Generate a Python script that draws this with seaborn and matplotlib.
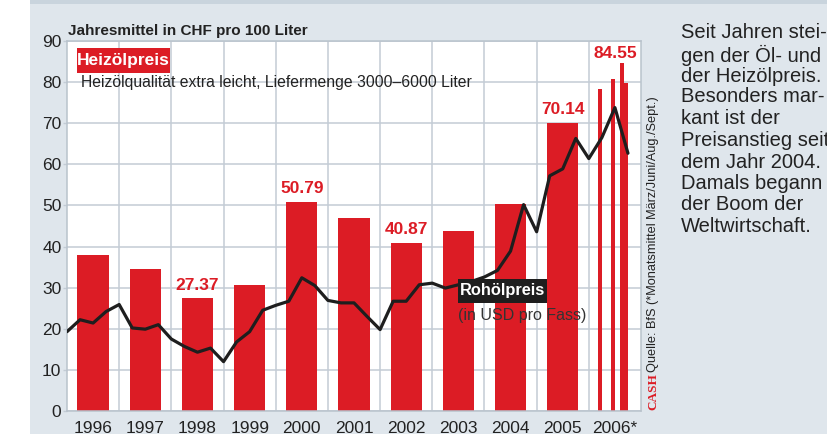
import matplotlib
matplotlib.use("Agg")
import matplotlib.pyplot as plt
from matplotlib.patches import Rectangle
from matplotlib import font_manager as fm
import seaborn as sns
import pandas as pd
import numpy as np

# ---------------- data ----------------
years = ["1996", "1997", "1998", "1999", "2000", "2001", "2002", "2003", "2004", "2005", "2006*"]
heizoel_annual = [37.9, 34.6, 27.37, 30.6, 50.79, 47.0, 40.87, 43.7, 50.4, 70.14]
months_2006 = ["März", "Juni", "Aug.", "Sept."]
month_index_2006 = [2, 5, 7, 8]
heizoel_2006 = [78.3, 80.7, 84.55, 79.7]
labeled_years = ["1998", "2000", "2002", "2005"]
label_2006 = "84.55"
# quarterly crude oil price (USD per barrel), 1996 Q1 ... 2006 Q4
rohoel_quarterly = [19.3, 22.2, 21.4, 24.2, 25.9, 20.2, 19.9, 21.0, 17.5, 15.7, 14.3, 15.3,
                    12.0, 16.8, 19.3, 24.5, 25.7, 26.7, 32.4, 30.5, 26.9, 26.3, 26.3, 23.0,
                    19.8, 26.7, 26.7, 30.7, 31.1, 29.9, 30.7, 31.5, 32.6, 34.2, 38.9, 50.2,
                    43.6, 57.2, 58.9, 66.3, 61.4, 66.5, 73.8, 62.7]
y_ticks = [0, 10, 20, 30, 40, 50, 60, 70, 80, 90]
side_text = ["Seit Jahren stei-", "gen der Öl- und", "der Heizölpreis.", "Besonders mar-",
             "kant ist der", "Preisanstieg seit", "dem Jahr 2004.", "Damals begann",
             "der Boom der", "Weltwirtschaft."]

# ---------------- style ----------------
RED = "#dc1c25"
BG = "#dfe6ec"
STRIP = "#c9d4dd"
GRID = "#c3ccd5"
TXT = "#222222"

sns.set_theme(style="white")
names = {f.name for f in fm.fontManager.ttflist}
NARROW = "Liberation Sans Narrow" if "Liberation Sans Narrow" in names else "Liberation Sans"
plt.rcParams["font.family"] = [NARROW, "DejaVu Sans"]

W, H = 827, 434
fig = plt.figure(figsize=(W / 100, H / 100), dpi=100, facecolor=BG)

def fx(x):
    return x / W

def fy(y):
    return 1 - y / H

fig.patches.append(Rectangle((0, 0), fx(30), 1, transform=fig.transFigure,
                             facecolor="white", edgecolor="none", zorder=0))
fig.patches.append(Rectangle((fx(30), fy(4)), 1, 4 / H, transform=fig.transFigure,
                             facecolor=STRIP, edgecolor="none", zorder=0))

ax = fig.add_axes([fx(67), 1 - 411 / H, (641 - 67) / W, (411 - 41) / H])
ax.set_facecolor("white")

df_a = pd.DataFrame({"x": np.arange(len(heizoel_annual)) + 0.5, "v": heizoel_annual})
sns.barplot(data=df_a, x="x", y="v", native_scale=True, width=0.6, color=RED,
            saturation=1, errorbar=None, linewidth=0, ax=ax, zorder=2)

df_m = pd.DataFrame({"x": 10 + (np.array(month_index_2006) + 0.55) / 12, "v": heizoel_2006})
sns.barplot(data=df_m, x="x", y="v", native_scale=True, width=0.92, color=RED,
            saturation=1, errorbar=None, linewidth=0, ax=ax, zorder=2)

df_l = pd.DataFrame({"x": np.arange(len(rohoel_quarterly)) / 4, "v": rohoel_quarterly})
sns.lineplot(data=df_l, x="x", y="v", color="#1e1e1e", linewidth=2.3, ax=ax, zorder=3)

ax.set_xlim(0, 11)
ax.set_ylim(0, 90)
ax.set_xlabel("")
ax.set_ylabel("")
ax.set_xticks(np.arange(11) + 0.5)
ax.set_xticklabels(years)
ax.set_xticks(np.arange(1, 11), minor=True)
ax.set_yticks(y_ticks)
ax.grid(False)
ax.grid(which="minor", axis="x", color=GRID, linewidth=1.1, zorder=0)
ax.grid(which="major", axis="y", color=GRID, linewidth=1.1, zorder=0)
ax.set_axisbelow(True)
ax.tick_params(axis="x", which="both", length=0, pad=7, labelsize=12.5, labelcolor=TXT)
ax.tick_params(axis="y", which="major", length=3, width=1, color=GRID, pad=1,
               labelsize=12.5, labelcolor=TXT, left=True)
for s in ax.spines.values():
    s.set_color("#b9c3cc")
    s.set_linewidth(1.1)

# value labels
for i, y in enumerate(years[:-1]):
    if y in labeled_years:
        ax.text(i + 0.5, heizoel_annual[i] + 1.4, f"{heizoel_annual[i]:.2f}", ha="center",
                va="bottom", color=RED, fontsize=12.5, fontweight="bold", zorder=5)
ax.text(10.5, max(heizoel_2006) + 0.5, label_2006, ha="center", va="bottom", color=RED,
        fontsize=12.5, fontweight="bold", zorder=5)

# title
fig.text(fx(68), fy(35), "Jahresmittel in CHF pro 100 Liter", ha="left", va="baseline",
         fontsize=11, fontweight="bold", color=TXT)

# Heizölpreis legend box
fig.patches.append(Rectangle((fx(77), fy(73)), (170 - 77) / W, (73 - 48) / H,
                             transform=fig.transFigure, facecolor=RED, edgecolor="none", zorder=5))
fig.text(fx(123.5), fy(60.5), "Heizölpreis", ha="center", va="center", color="white",
         fontsize=12.5, fontweight="bold", zorder=6)
fig.text(fx(81), fy(83), "Heizölqualität extra leicht, Liefermenge 3000–6000 Liter",
         ha="left", va="center", color=TXT, fontsize=11.3, zorder=6)

# Rohölpreis label
fig.patches.append(Rectangle((fx(458), fy(303)), (547 - 458) / W, (303 - 279) / H,
                             transform=fig.transFigure, facecolor="#1e1e1e", edgecolor="none", zorder=5))
fig.text(fx(502.5), fy(291), "Rohölpreis", ha="center", va="center", color="white",
         fontsize=11.8, fontweight="bold", zorder=6)
fig.text(fx(458), fy(315.5), "(in USD pro Fass)", ha="left", va="center", color="#333333",
         fontsize=11.5, zorder=6)

# side text
ys = [33, 55, 76, 97, 119, 141, 162, 184, 205, 227]
for t, y in zip(side_text, ys):
    fig.text(fx(681), fy(y), t, ha="left", va="center", color=TXT, fontsize=14.5)

# vertical source
fig.text(fx(653), fy(410), "CASH", rotation=90, rotation_mode="anchor", ha="left", va="center",
         color=RED, fontsize=9.5, fontweight="bold", family=["Liberation Serif", "DejaVu Serif"])
fig.text(fx(653), fy(372), "Quelle: BfS (*Monatsmittel März/Juni/Aug./Sept.)", rotation=90,
         rotation_mode="anchor", ha="left", va="center", color=TXT, fontsize=9.2)

fig.savefig("out.png", dpi=100, facecolor=BG)
